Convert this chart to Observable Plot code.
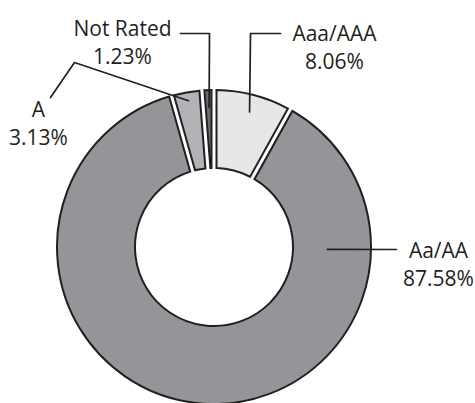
<!DOCTYPE html>
<html><head><meta charset="utf-8">
<script src="https://cdn.jsdelivr.net/npm/d3@7"></script>
<script src="https://cdn.jsdelivr.net/npm/@observablehq/plot@0.6"></script>
<style>html,body{margin:0;padding:0;background:#fff}</style>
</head><body><div id="chart"></div>
<script>
// ---- data ----
const categories = ["Aaa/AAA", "Aa/AA", "A", "Not Rated"];
const shares = [8.06, 87.58, 3.13, 1.23];
const shareLabels = ["8.06%", "87.58%", "3.13%", "1.23%"];
const fills = ["#e6e7e8", "#939598", "#b1b3b6", "#6d6e71"];

// ---- layout (pixel offsets from donut centre, y down) ----
const outerR = 157, innerR = 79, gapPx = 5;
const anchorAngle = [null, 91, null, null];   // null -> slice mid-angle
const anchorRadius = [140, 113, 149, 140];
const leaderBends = [
  [[36, -214], [66, -214]],
  [[182, 2]],
  [[-140, -185], [-164, -150]],
  [[-5, -214], [-34, -214]]
];
const labelX = [120, 224, -176, -92];
const labelTop = [-226, -9, -150, -231];

const table = categories.map((c, i) => ({category: c, share: shares[i], label: shareLabels[i], fill: fills[i]}));
const arcs = d3.pie().sort(null).value(d => d.share)(table);

const leaders = [];
arcs.forEach((a, i) => {
  const ang = anchorAngle[i] == null ? (a.startAngle + a.endAngle) / 2 : anchorAngle[i] * Math.PI / 180;
  const rad = anchorRadius[i];
  leaders.push({k: i, x: rad * Math.sin(ang), y: -rad * Math.cos(ang)});
  leaderBends[i].forEach(([x, y]) => leaders.push({k: i, x, y}));
});

const labels = table.map((d, i) => ({text: d.category + "\n" + d.label, x: labelX[i], y: labelTop[i]}));

function donut(index, scales) {
  const cx = scales.x(0), cy = scales.y(0);
  const k = scales.x(1) - scales.x(0);
  const arc = d3.arc()
    .innerRadius(innerR * k).outerRadius(outerR * k)
    .padRadius(outerR * k).padAngle(gapPx / outerR);
  const g = d3.create("svg:g").attr("transform", `translate(${cx},${cy})`);
  g.selectAll("path").data(arcs).join("path")
    .attr("d", arc)
    .attr("fill", d => d.data.fill)
    .attr("stroke", "#231f20")
    .attr("stroke-width", 2)
    .attr("stroke-linejoin", "miter");
  return g.node();
}

const chart = Plot.plot({
  width: 475, height: 403,
  margin: 0,
  x: {domain: [-214, 261], range: [0, 475], axis: null},
  y: {domain: [-247, 156], range: [0, 403], axis: null},
  style: {fontFamily: "'Open Sans', sans-serif", background: "#fff", overflow: "visible"},
  marks: [
    donut,
    Plot.line(leaders, {x: "x", y: "y", z: "k", stroke: "#231f20", strokeWidth: 1.7, curve: "linear"}),
    Plot.text(labels, {x: "x", y: "y", text: "text", fontSize: 21, lineHeight: 1.33, lineAnchor: "top", textAnchor: "middle", fill: "#231f20"})
  ]
});
document.getElementById("chart").appendChild(chart);
</script>
</body></html>
